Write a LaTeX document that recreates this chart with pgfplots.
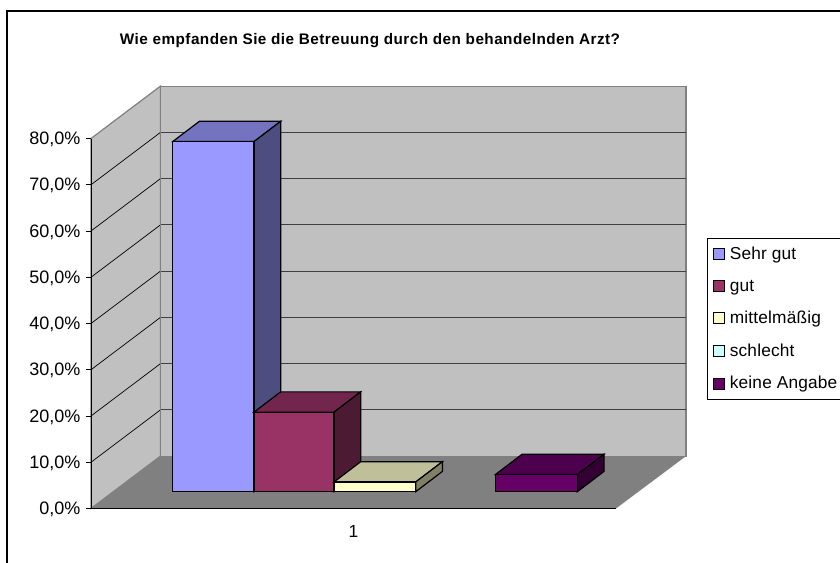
\documentclass[border=0pt]{standalone}
\usepackage{fontspec}
\setmainfont{Liberation Sans}
\newfontfamily\titlefont[LetterSpace=3]{Liberation Sans}
\newfontfamily\legendfont[LetterSpace=1]{Liberation Sans}
\usepackage{pgfplots}
\pgfplotsset{compat=1.18}
\definecolor{WallGray}{HTML}{C0C0C0}
\definecolor{FloorGray}{HTML}{808080}
\definecolor{GridGray}{HTML}{404040}
\definecolor{SehrF}{HTML}{9999FF}
\definecolor{SehrT}{HTML}{7373BF}
\definecolor{SehrS}{HTML}{4D4D80}
\definecolor{GutF}{HTML}{993366}
\definecolor{GutT}{HTML}{73264D}
\definecolor{GutS}{HTML}{4D1A33}
\definecolor{MittelF}{HTML}{FFFFCC}
\definecolor{MittelT}{HTML}{BFBF99}
\definecolor{MittelS}{HTML}{808066}
\definecolor{SchlechtF}{HTML}{CCFFFF}
\definecolor{KeineF}{HTML}{660066}
\definecolor{KeineT}{HTML}{4D004D}
\definecolor{KeineS}{HTML}{330033}
% x axis runs in picture pixels, y in percent; depth of bars and of the floor given separately
\newcommand{\threedbar}[6]{%
  \pgfmathsetmacro{\xb}{#2+26.7}%
  \pgfmathsetmacro{\xa}{#1+26.7}%
  \pgfmathsetmacro{\vb}{#3+4.39}%
  \addplot[barface, fill=#5] coordinates {(#1,#3) (#2,#3) (\xb,\vb) (\xa,\vb)} --cycle;
  \addplot[barface, fill=#6] coordinates {(#2,0) (\xb,4.39) (\xb,\vb) (#2,#3)} --cycle;
  \addplot[barface, fill=#4] coordinates {(#1,0) (#2,0) (#2,#3) (#1,#3)} --cycle;
}
\begin{document}
\begin{tikzpicture}[x=1pt,y=1pt]
\draw[black, line width=1.1pt] (7,-11) rectangle (920,-620);
\begin{axis}[
  at={(91pt,-508.5pt)}, anchor=south west,
  scale only axis, width=525pt, height=370pt,
  xmin=91, xmax=616, ymin=0, ymax=80,
  clip=false, axis on top, no markers,
  axis x line=bottom, axis y line=left,
  axis line style={-, black, line width=0.7pt},
  barface/.style={draw=black, line width=1.2pt, line join=miter, yshift=16.8pt, forget plot},
  ytick={0,10,20,30,40,50,60,70,80},
  yticklabels={{0,0\%},{10,0\%},{20,0\%},{30,0\%},{40,0\%},{50,0\%},{60,0\%},{70,0\%},{80,0\%}},
  xtick={353.5}, xticklabels={1},
  x tick style={draw=none},
  extra x ticks={91,616}, extra x tick labels={},
  extra x tick style={tick style={black, line width=0.7pt}, major tick length=5pt},
  y tick style={black, line width=0.7pt},
  major tick length=5pt, tick align=outside,
  y tick label style={font=\fontsize{18}{18}\selectfont, xshift=-2pt, yshift=-1pt},
  x tick label style={font=\fontsize{17.5}{17.5}\selectfont, yshift=-8pt},
  title={\titlefont\bfseries\fontsize{15.3}{16}\selectfont Wie empfanden Sie die Betreuung durch den behandelnden Arzt?},
  title style={at={(axis cs:370,99.84)}, anchor=center},
  legend image code/.code={\draw[#1, line width=0.9pt] (0,-5.5pt) rectangle (11pt,5.5pt); \path (14pt,0pt);},
  legend cell align=left,
  legend style={at={(axis cs:706.7,58.4)}, anchor=north west, draw=black, line width=0.7pt,
    font=\legendfont\fontsize{17.3}{17.3}\selectfont, row sep=14.6pt, inner xsep=6pt, inner ysep=6.5pt, fill=white},
]
% side wall, floor, back wall
\addplot[fill=WallGray, draw=FloorGray, line width=1.2pt, forget plot] coordinates {(91,0) (160.5,11.33) (160.5,91.33) (91,80)} --cycle;
\addplot[fill=WallGray, draw=FloorGray, line width=1.2pt, forget plot] coordinates {(160.5,11.33) (686,11.33) (686,91.33) (160.5,91.33)} --cycle;
\addplot[fill=FloorGray, draw=none, forget plot] coordinates {(91,0) (616,0) (686,11.33) (160.5,11.33)} --cycle;
% gridlines round the walls
\pgfplotsinvokeforeach{10,20,30,40,50,60,70}{
  \pgfmathsetmacro{\vg}{#1+11.33}
  \addplot[black, line width=0.7pt, forget plot] coordinates {(91,#1) (160.5,\vg)};
  \addplot[GridGray, line width=1pt, forget plot] coordinates {(160.5,\vg) (686,\vg)};
}
\addplot[FloorGray, line width=1.2pt, forget plot] coordinates {(160.5,11.33) (160.5,91.33)};
% one bar per answer; schlecht is 0 and draws nothing
\threedbar{172.7}{254}{75.7}{SehrF}{SehrT}{SehrS}
\threedbar{254}{334}{17.2}{GutF}{GutT}{GutS}
\threedbar{334}{415.7}{2.1}{MittelF}{MittelT}{MittelS}
\threedbar{495.3}{577.3}{3.7}{KeineF}{KeineT}{KeineS}
\addlegendimage{fill=SehrF, draw=black}\addlegendentry{Sehr gut}
\addlegendimage{fill=GutF, draw=black}\addlegendentry{gut}
\addlegendimage{fill=MittelF, draw=black}\addlegendentry{mittelmäßig}
\addlegendimage{fill=SchlechtF, draw=black}\addlegendentry{schlecht}
\addlegendimage{fill=KeineF, draw=black}\addlegendentry{keine Angabe}
\end{axis}
\pgfresetboundingbox
\path[use as bounding box] (0,0) rectangle (840,-562);
\end{tikzpicture}
\end{document}
